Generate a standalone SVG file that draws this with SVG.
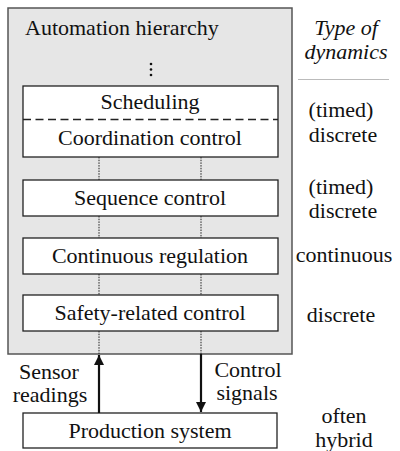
<svg xmlns="http://www.w3.org/2000/svg" width="400" height="451" viewBox="0 0 400 451" font-family="Times New Roman, Liberation Serif, serif">
<defs>
<marker id="ah" viewBox="0 0 10 10" refX="10" refY="5" markerWidth="10" markerHeight="10" markerUnits="userSpaceOnUse" orient="auto">
<path d="M0,0 L10,5 L0,10 Z" fill="#111"/>
</marker>
</defs>
<rect width="400" height="451" fill="#fff"/>
<g id="hierarchy" fill="#111" font-family="Times New Roman, Liberation Serif, serif" font-size="22">
<rect x="8" y="8" width="284" height="346" fill="#e6e6e6" stroke="#555" stroke-width="1.5"/>
<text x="25" y="35" font-family="Times New Roman">Automation hierarchy</text>
<circle cx="151" cy="64" r="1.3"/>
<circle cx="151" cy="69.5" r="1.3"/>
<circle cx="151" cy="75" r="1.3"/>
</g>
<g id="scheduling" fill="#111" text-anchor="middle" font-family="Times New Roman, Liberation Serif, serif" font-size="22">
<rect x="23" y="86" width="255" height="71" fill="#fff" stroke="#222" stroke-width="1.3"/>
<line x1="23" y1="119.5" x2="278" y2="119.5" stroke="#222" stroke-width="1.3" stroke-dasharray="8 4.5"/>
<text x="150" y="109" font-family="Times New Roman">Scheduling</text>
<text x="150" y="145" font-family="Times New Roman">Coordination control</text>
</g>
<g id="sequence" fill="#111" text-anchor="middle" font-family="Times New Roman, Liberation Serif, serif" font-size="22">
<rect x="23" y="180" width="255" height="36" fill="#fff" stroke="#222" stroke-width="1.3"/>
<text x="150" y="205" font-family="Times New Roman">Sequence control</text>
</g>
<g id="continuous" fill="#111" text-anchor="middle" font-family="Times New Roman, Liberation Serif, serif" font-size="22">
<rect x="23" y="238" width="255" height="36" fill="#fff" stroke="#222" stroke-width="1.3"/>
<text x="150" y="263" font-family="Times New Roman">Continuous regulation</text>
</g>
<g id="safety" fill="#111" text-anchor="middle" font-family="Times New Roman, Liberation Serif, serif" font-size="22">
<rect x="23" y="295" width="255" height="36" fill="#fff" stroke="#222" stroke-width="1.3"/>
<text x="150" y="320" font-family="Times New Roman">Safety-related control</text>
</g>
<g id="production" fill="#111" text-anchor="middle" font-family="Times New Roman, Liberation Serif, serif" font-size="22">
<rect x="23" y="413" width="254" height="35" fill="#fff" stroke="#222" stroke-width="1.3"/>
<text x="150" y="438" font-family="Times New Roman">Production system</text>
</g>
<g id="connectors" fill="none">
<path d="M99,157V180M201,157V180M99,216V238M201,216V238M99,274V295M201,274V295M99,331V354M201,331V354" stroke="#222" stroke-width="1" stroke-dasharray="1.5 1.2"/>
<line x1="99" y1="413" x2="99" y2="355" stroke="#111" stroke-width="2.2" marker-end="url(#ah)"/>
<line x1="201" y1="354" x2="201" y2="412" stroke="#111" stroke-width="2.2" marker-end="url(#ah)"/>
</g>
<g id="labels" fill="#111" text-anchor="middle" font-family="Times New Roman, Liberation Serif, serif" font-size="22">
<text x="49" y="379" font-family="Times New Roman">Sensor</text>
<text x="50" y="402" font-family="Times New Roman">readings</text>
<text x="248" y="377" font-family="Times New Roman">Control</text>
<text x="247" y="400" font-family="Times New Roman">signals</text>
</g>
<g id="dynamics" fill="#111" text-anchor="middle" font-family="Times New Roman, Liberation Serif, serif" font-size="22">
<text x="346" y="35" font-family="Times New Roman" font-style="italic">Type of</text>
<text x="346" y="59" font-family="Times New Roman" font-style="italic">dynamics</text>
<line x1="298" y1="79.5" x2="389" y2="79.5" stroke="#bbb" stroke-width="1.2"/>
<text x="341" y="117" font-family="Times New Roman">(timed)</text>
<text x="343" y="142" font-family="Times New Roman">discrete</text>
<text x="341" y="194" font-family="Times New Roman">(timed)</text>
<text x="343" y="218" font-family="Times New Roman">discrete</text>
<text x="344" y="262" font-family="Times New Roman">continuous</text>
<text x="341" y="322" font-family="Times New Roman">discrete</text>
<text x="344" y="423" font-family="Times New Roman">often</text>
<text x="344" y="447" font-family="Times New Roman">hybrid</text>
</g>
</svg>
